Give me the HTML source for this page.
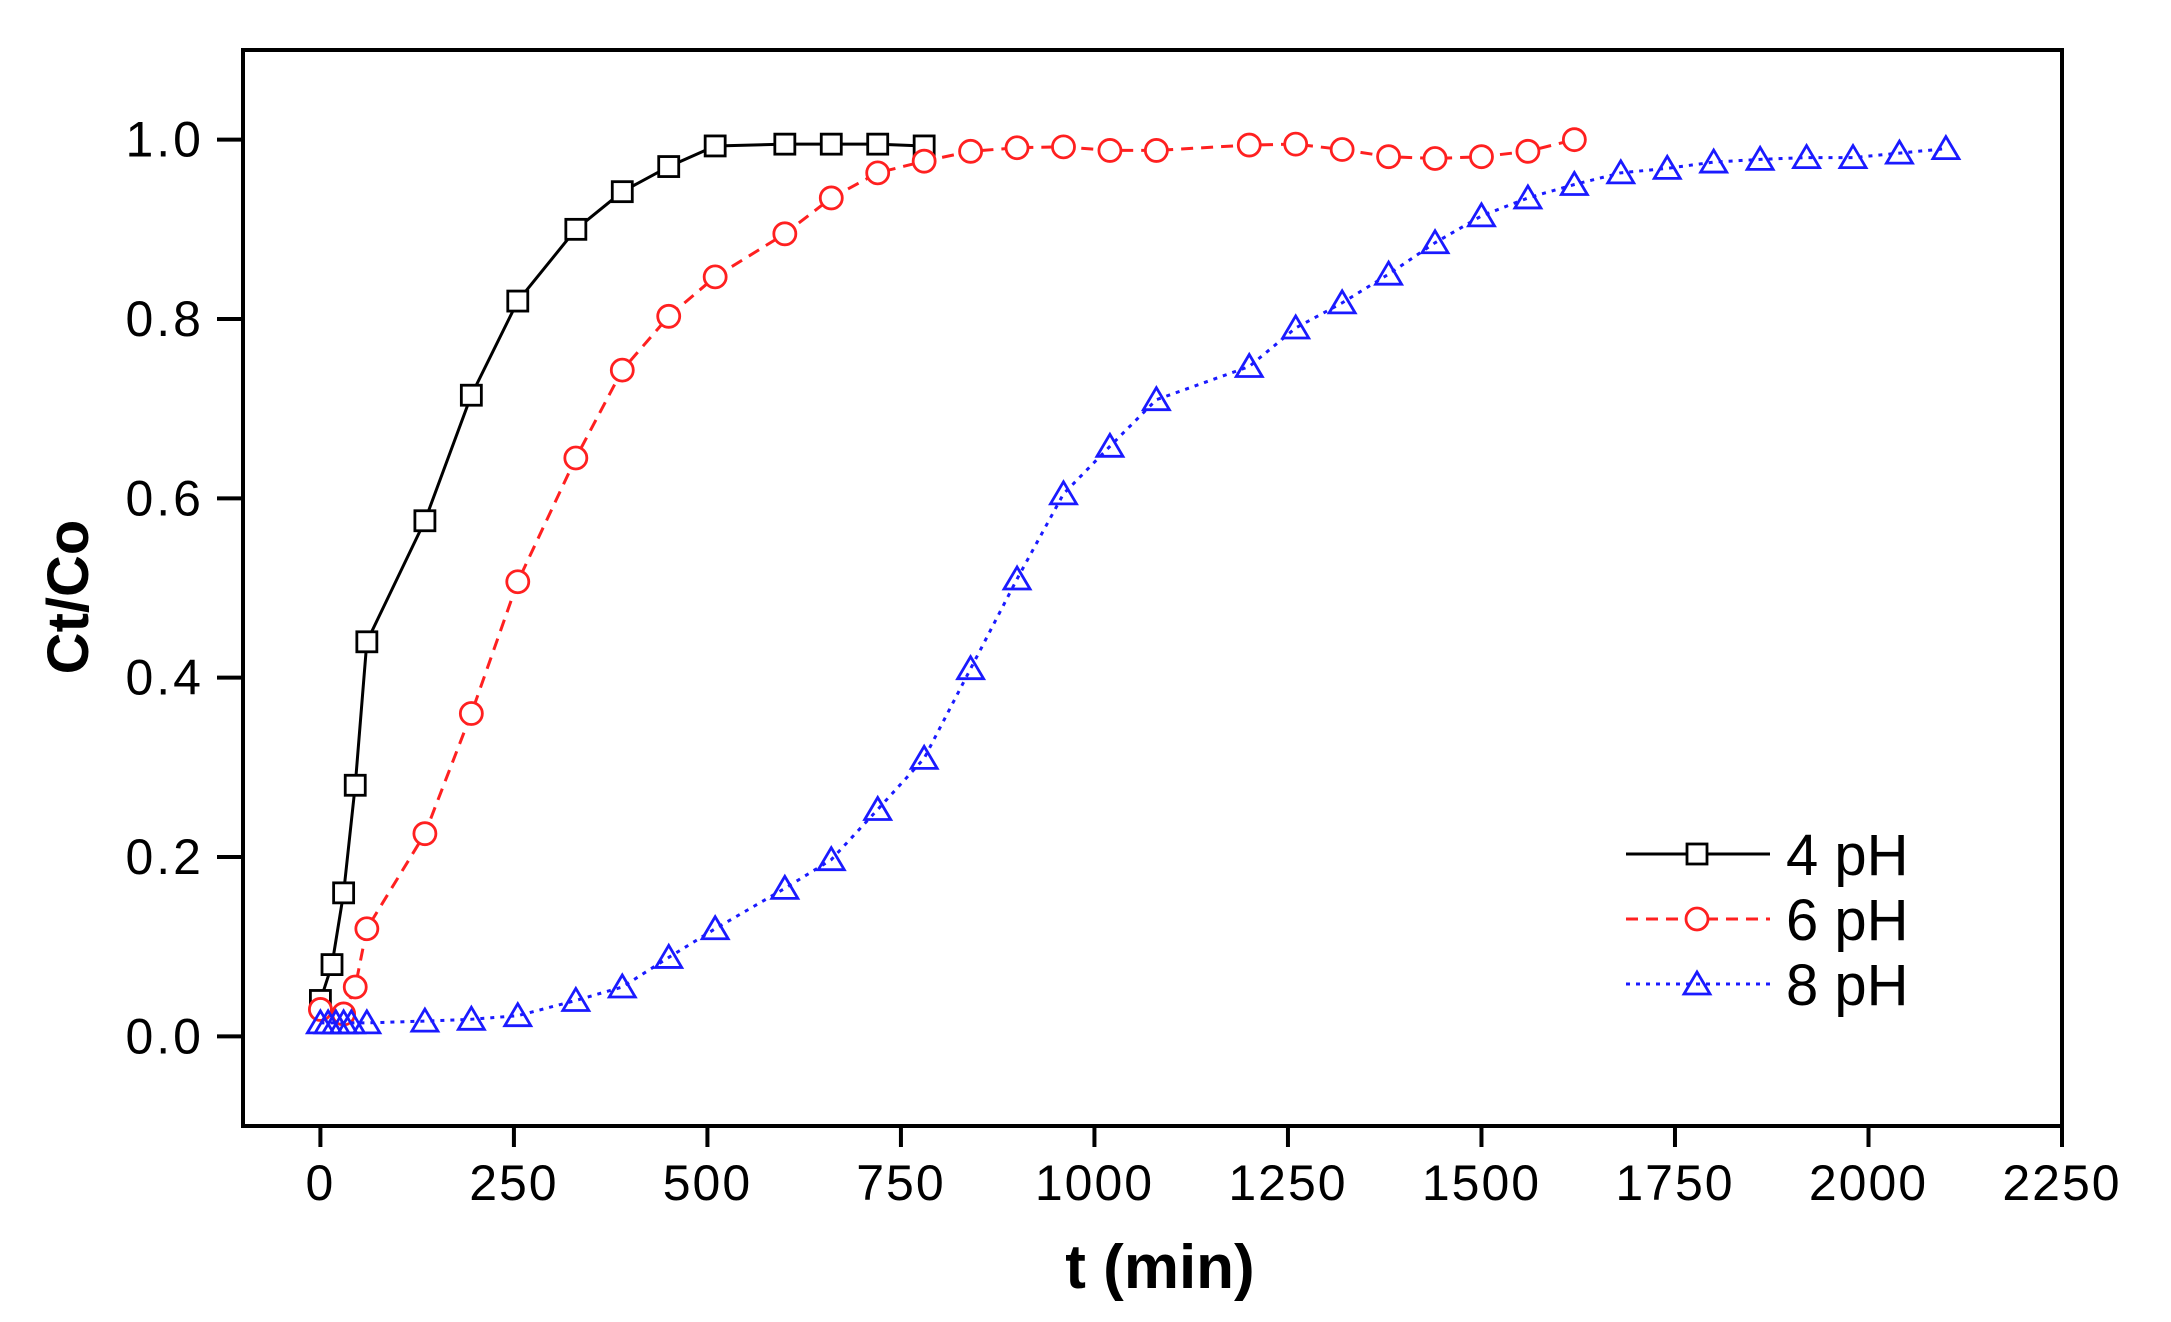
<!DOCTYPE html>
<html><head><meta charset="utf-8"><style>
html,body{margin:0;padding:0;background:#fff;}
svg{display:block;font-family:"Liberation Sans",Arial,sans-serif;}
</style></head><body>
<svg id="chart" width="2171" height="1322" viewBox="0 0 2171 1322" xmlns="http://www.w3.org/2000/svg">
<g id="axes"></g>
<g id="series"></g>
<g id="legend"></g>
</svg>
<script>
const xTicks = [0,250,500,750,1000,1250,1500,1750,2000,2250];
const yTicks = [0.0,0.2,0.4,0.6,0.8,1.0];
const yTickLabels = ["0.0","0.2","0.4","0.6","0.8","1.0"];
const t4 = [0,15,30,45,60,135,195,255,330,390,450,510,600,660,720,780];
const y4 = [0.04,0.08,0.16,0.28,0.44,0.575,0.715,0.82,0.90,0.942,0.97,0.993,0.995,0.995,0.995,0.993];
const t6 = [0,30,45,60,135,195,255,330,390,450,510,600,660,720,780,840,900,960,1020,1080,1200,1260,1320,1380,1440,1500,1560,1620];
const y6 = [0.03,0.025,0.055,0.12,0.226,0.36,0.507,0.645,0.743,0.803,0.847,0.895,0.935,0.963,0.976,0.987,0.991,0.992,0.988,0.988,0.994,0.995,0.989,0.981,0.979,0.981,0.987,1.0];
const t8 = [0,10,20,30,40,60,135,195,255,330,390,450,510,600,660,720,780,840,900,960,1020,1080,1200,1260,1320,1380,1440,1500,1560,1620,1680,1740,1800,1860,1920,1980,2040,2100];
const y8 = [0.015,0.015,0.015,0.015,0.015,0.015,0.017,0.019,0.023,0.04,0.055,0.088,0.12,0.165,0.197,0.253,0.31,0.41,0.51,0.605,0.658,0.71,0.747,0.79,0.818,0.85,0.885,0.915,0.935,0.95,0.963,0.968,0.975,0.978,0.98,0.98,0.985,0.99];
const seriesNames = ["4 pH","6 pH","8 pH"];

const NS="http://www.w3.org/2000/svg";
const L=243,R=2062,T=50,B=1126;
const xMin=-100,xMax=2250,yMin=-0.1,yMax=1.1;
function sx(v){return L+(v-xMin)/(xMax-xMin)*(R-L);}
function sy(v){return B-(v-yMin)/(yMax-yMin)*(B-T);}
function mk(tag,attrs,parent){const e=document.createElementNS(NS,tag);for(const k in attrs)e.setAttribute(k,attrs[k]);parent.appendChild(e);return e;}
const axes=document.getElementById('axes'),ser=document.getElementById('series'),leg=document.getElementById('legend');

const frame=mk('rect',{x:L,y:T,width:R-L,height:B-T,fill:'none',stroke:'#000','stroke-width':4},axes);


xTicks.forEach(v=>{
  const x=sx(v);
  const tk=mk('line',{x1:x,x2:x,y1:B,y2:B+21,stroke:'#000','stroke-width':4},axes);
  
  
  const tx=mk('text',{x:x,y:1200,'font-size':50,'letter-spacing':2,'text-anchor':'middle',fill:'#000'},axes);
  tx.textContent=v;
  
  
});
yTicks.forEach((v,i)=>{
  const y=sy(v);
  const tk=mk('line',{x1:L-26,x2:L,y1:y,y2:y,stroke:'#000','stroke-width':4},axes);
  
  
  const tx=mk('text',{x:204,y:y+17,'font-size':50,'letter-spacing':3,'text-anchor':'end',fill:'#000'},axes);
  tx.textContent=yTickLabels[i];
  
  
});
const xt=mk('text',{x:1160,y:1288,'font-size':62,'text-anchor':'middle','font-weight':'bold',fill:'#000'},axes);
xt.textContent='t (min)';


const yt=mk('text',{x:0,y:0,'font-size':58,'text-anchor':'middle','font-weight':'bold',fill:'#000',transform:'translate(88,597) rotate(-90)'},axes);
yt.textContent='Ct/Co';



function marker(kind,x,y,color,parent){
  let e;
  if(kind==='sq') e=mk('rect',{x:x-10,y:y-10,width:20,height:20,fill:'#fff',stroke:color,'stroke-width':2.8},parent);
  else if(kind==='ci') e=mk('circle',{cx:x,cy:y,r:11,fill:'#fff',stroke:color,'stroke-width':2.8},parent);
  else e=mk('polygon',{points:`${x},${y-12} ${x-13},${y+10} ${x+13},${y+10}`,fill:'none',stroke:color,'stroke-width':2.8},parent);
  return e;
}
const defs=[[t4,y4,'#000','none','sq','series-4ph'],[t6,y6,'#ff2020','12,8','ci','series-6ph'],[t8,y8,'#1a1aff','4,6','tr','series-8ph']];
defs.forEach(([ts,ys,c,dash,kind,name])=>{
  const g=mk('g',{},ser);
  
  
  const pts=ts.map((t,i)=>sx(t)+','+sy(ys[i])).join(' ');
  const pl=mk('polyline',{points:pts,fill:'none',stroke:c,'stroke-width':3,'stroke-dasharray':dash},g);
  
  
  ts.forEach((t,i)=>{
    const m=marker(kind,sx(t),sy(ys[i]),c,g);
    
    
  });
});
defs.forEach(([ts,ys,c,dash,kind,name],i)=>{
  const y=854+i*65;
  const g=mk('g',{},leg);
  
  
  mk('line',{x1:1626,x2:1770,y1:y,y2:y,stroke:c,'stroke-width':3,'stroke-dasharray':dash},g);
  marker(kind,1697,y,c,g);
  const tx=mk('text',{x:1786,y:y+21,'font-size':58,fill:'#000'},g);
  tx.textContent=seriesNames[i];
  
  
});
</script>
</body></html>
